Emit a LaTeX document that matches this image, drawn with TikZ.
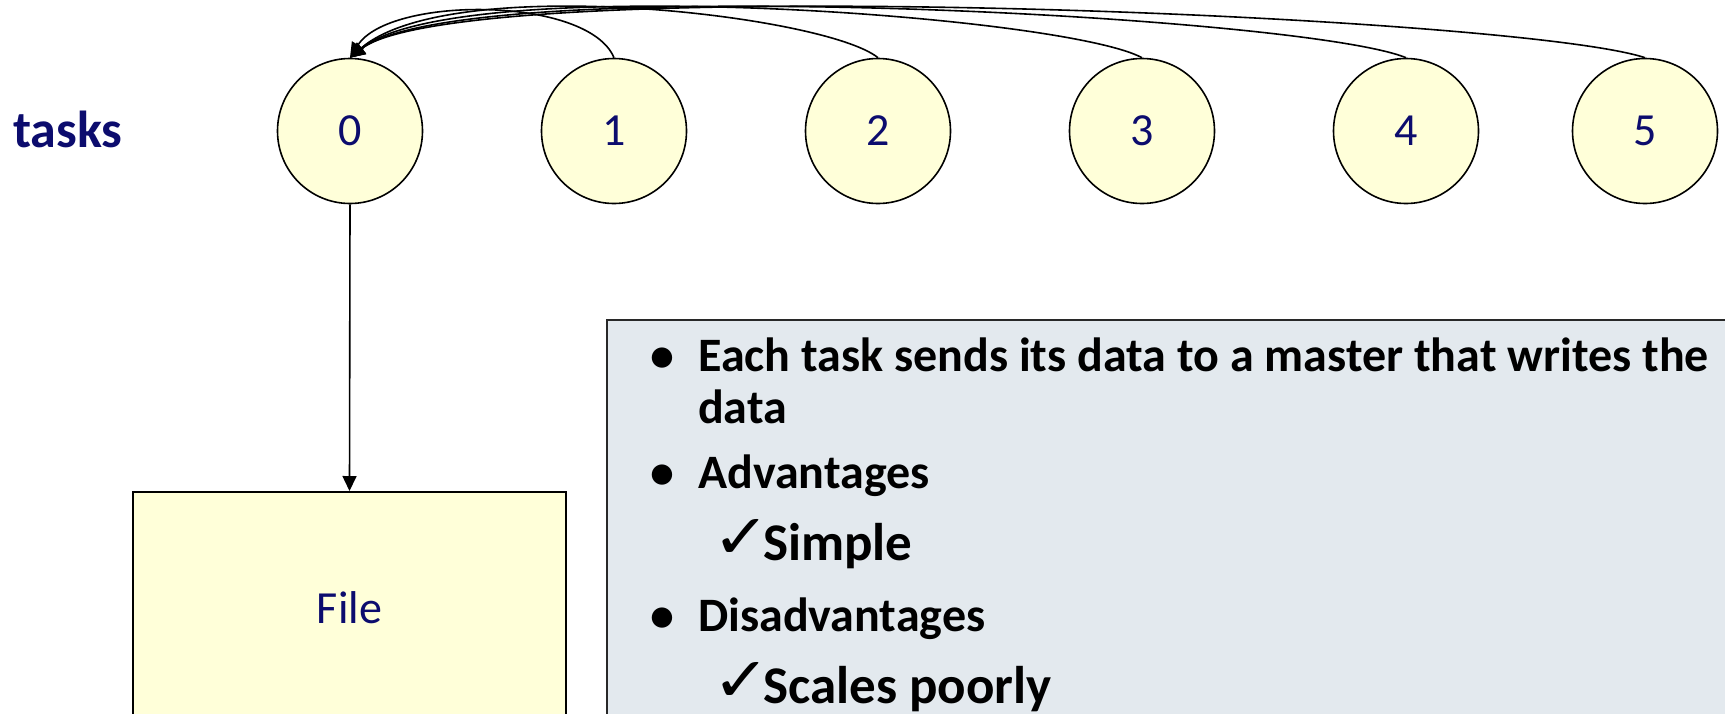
\documentclass[tikz,border=0pt]{standalone}
\usepackage{fontspec}
\setmainfont{Carlito}
\newfontfamily\symfont{DejaVu Sans}
\usetikzlibrary{arrows.meta}
\definecolor{navy}{RGB}{12,12,110}
\definecolor{cfill}{RGB}{255,255,217}
\definecolor{bfill}{RGB}{227,233,238}
\definecolor{bline}{RGB}{40,40,40}
\newcommand{\chkmark}{\makebox[44pt][l]{\scalebox{1.12}[1]{✓}}}
\tikzset{
  task/.style={circle, draw=black, line width=1.6pt, fill=cfill, minimum size=145pt, inner sep=0pt,
    text=navy, font=\fontsize{46}{52}\selectfont},
  filebox/.style={rectangle, draw=black, line width=2pt, fill=cfill, inner sep=0pt,
    text=navy, font=\fontsize{46}{52}\selectfont},
  infobox/.style={rectangle, draw=bline, line width=1.6pt, fill=bfill, inner sep=0pt},
  conn/.style={draw=black, line width=1.6pt, -{Triangle[length=15pt,width=14pt]}},
  btxt/.style={anchor=base west, inner sep=0pt, font=\fontsize{48}{56}\selectfont\bfseries, text=black},
  ctxt/.style={anchor=base west, inner sep=0pt, font=\fontsize{53}{60}\selectfont\bfseries, text=black},
  chk/.style={anchor=base west, inner sep=0pt, font=\symfont\fontsize{62}{64}\selectfont, text=black},
}
\begin{document}
\begin{tikzpicture}[x=1pt,y=-1pt]
\clip (0,0) rectangle (1725,713);
\fill[white] (0,0) rectangle (1725,713);

% label
\node[anchor=base west, inner sep=0pt, text=navy, font=\fontsize{52}{60}\selectfont\bfseries] (lbl) at (13,147) {tasks};

% tasks
\node[task] (c0) at (350,131) {0};
\node[task] (c1) at (614,131) {1};
\node[task] (c2) at (878,131) {2};
\node[task] (c3) at (1142,131) {3};
\node[task] (c4) at (1406,131) {4};
\node[task] (c5) at (1645,131) {5};

% file
\node[filebox, minimum width=433pt, minimum height=232pt, anchor=north] (file) at (349.5,491) {File};

% info box
\node[infobox, anchor=north west, minimum width=1160pt, minimum height=430pt] (info) at (606,319) {};

\node[btxt] (b1) at (650,371) {•};
\node[btxt] (t1) at (698,371) {Each task sends its data to a master that writes the};
\node[btxt] (t1b) at (698,423) {data};
\node[btxt] (b2) at (650,488) {•};
\node[btxt] (t2) at (698,488) {Advantages};
\node[chk] (k1) at (712,558) {\chkmark};
\node[ctxt] (t3) at (763,560) {Simple};
\node[btxt] (b3) at (650,631) {•};
\node[btxt] (t4) at (698,631) {Disadvantages};
\node[chk] (k2) at (712,701) {\chkmark};
\node[ctxt] (t5) at (763,703) {Scales poorly};

% connectors
\draw[conn] (c0.south) -- (file.north);
\draw[conn] (c1.north) .. controls +(-26,-62) and +(39,-62) .. (c0.north);
\draw[conn] (c2.north) .. controls +(-53,-43) and +(100,-86) .. (c0.north);
\draw[conn] (c3.north) .. controls +(-80,-43) and +(105,-86) .. (c0.north);
\draw[conn] (c4.north) .. controls +(-105,-43) and +(110,-86) .. (c0.north);
\draw[conn] (c5.north) .. controls +(-130,-43) and +(110,-86) .. (c0.north);
\end{tikzpicture}
\end{document}
